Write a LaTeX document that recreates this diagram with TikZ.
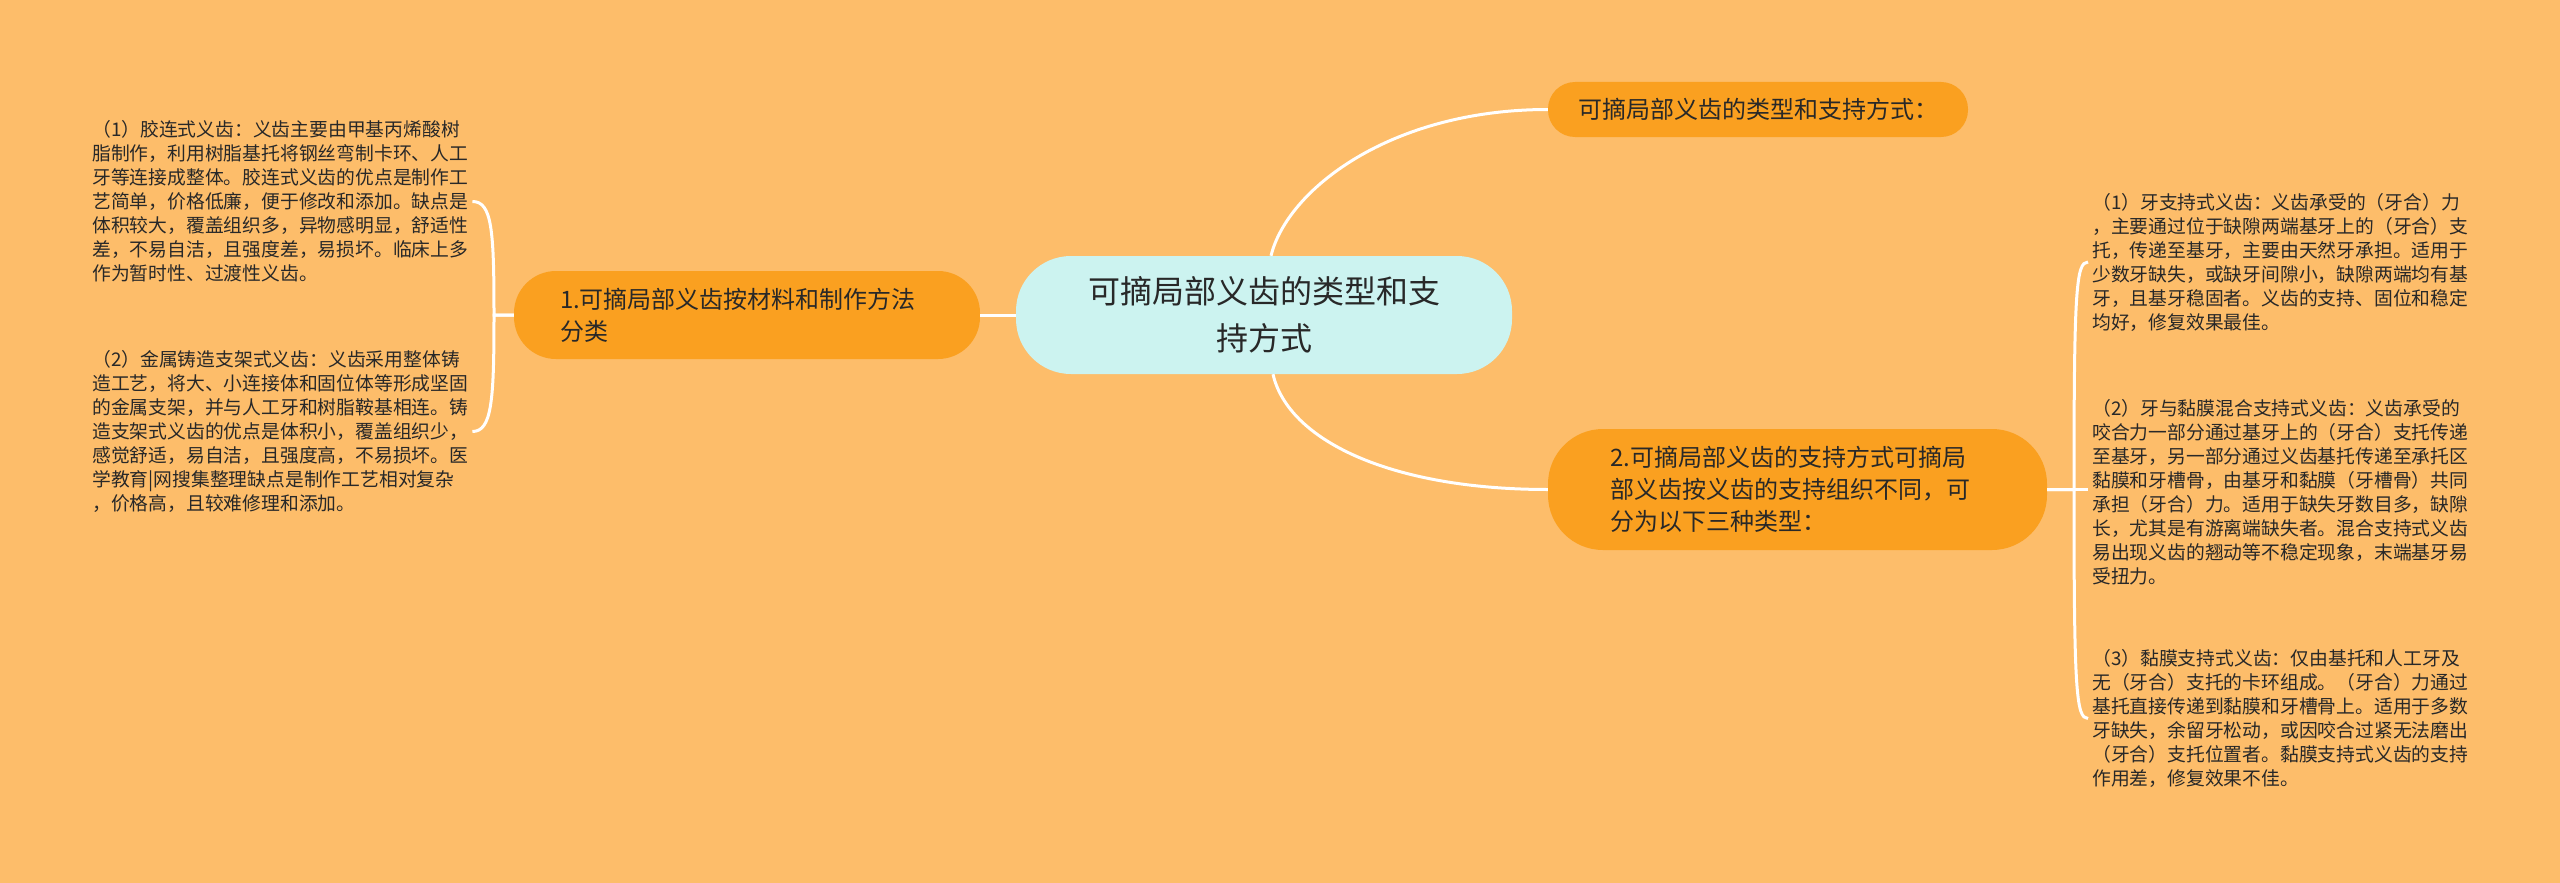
\documentclass[tikz,border=0pt]{standalone}
\usepackage{fontspec}
\newfontfamily\cjk{Noto Sans CJK SC}
\definecolor{bg}{RGB}{253,189,106}
\definecolor{orn}{RGB}{250,160,32}
\definecolor{cyn}{RGB}{204,243,240}
\definecolor{txt}{RGB}{40,40,40}
\begin{document}
\begin{tikzpicture}[x=1pt,y=-1pt,
  link/.style={draw=white,line width=3pt},
  leaf/.style={font=\cjk\fontsize{18.8}{24}\selectfont, text=txt, align=left, inner xsep=4pt, inner ysep=0pt, anchor=west},
  sub/.style={fill=orn, text=txt, font=\cjk\fontsize{24}{32}\selectfont, align=left, inner ysep=0pt},
  rootbox/.style={fill=cyn, text=txt, font=\cjk\fontsize{32}{47}\selectfont, align=center, inner ysep=0pt, rounded corners=55pt, minimum width=496pt, minimum height=118pt}]
\path[fill=bg] (0,0) rectangle (2560,883);

\node[rootbox] (root) at (1264,315) {可摘局部义齿的类型和支\\持方式};

\node[sub, rounded corners=27pt, minimum width=420pt, minimum height=55pt, inner xsep=29pt] (top) at (1758,109.5) {可摘局部义齿的类型和支持方式：};

\node[sub, rounded corners=42pt, minimum height=88pt, inner xsep=46pt, text width=374pt] (n1) at (747,315) {1.可摘局部义齿按材料和制作方法\\分类};

\node[sub, rounded corners=55pt, minimum height=121pt, inner xsep=62pt, text width=375pt] (n2) at (1797.5,489.5) {2.可摘局部义齿的支持方式可摘局\\部义齿按义齿的支持组织不同，可\\分为以下三种类型：};

\node[leaf] (l1) at (88,201.5) {（1）胶连式义齿：义齿主要由甲基丙烯酸树\\脂制作，利用树脂基托将钢丝弯制卡环、人工\\牙等连接成整体。胶连式义齿的优点是制作工\\艺简单，价格低廉，便于修改和添加。缺点是\\体积较大，覆盖组织多，异物感明显，舒适性\\差，不易自洁，且强度差，易损坏。临床上多\\作为暂时性、过渡性义齿。};

\node[leaf] (l2) at (88,431.5) {（2）金属铸造支架式义齿：义齿采用整体铸\\造工艺，将大、小连接体和固位体等形成坚固\\的金属支架，并与人工牙和树脂鞍基相连。铸\\造支架式义齿的优点是体积小，覆盖组织少，\\感觉舒适，易自洁，且强度高，不易损坏。医\\学教育|网搜集整理缺点是制作工艺相对复杂\\，价格高，且较难修理和添加。};

\node[leaf] (r1) at (2088,262) {（1）牙支持式义齿：义齿承受的（牙合）力\\，主要通过位于缺隙两端基牙上的（牙合）支\\托，传递至基牙，主要由天然牙承担。适用于\\少数牙缺失，或缺牙间隙小，缺隙两端均有基\\牙，且基牙稳固者。义齿的支持、固位和稳定\\均好，修复效果最佳。};

\node[leaf] (r2) at (2088,492.5) {（2）牙与黏膜混合支持式义齿：义齿承受的\\咬合力一部分通过基牙上的（牙合）支托传递\\至基牙，另一部分通过义齿基托传递至承托区\\黏膜和牙槽骨，由基牙和黏膜（牙槽骨）共同\\承担（牙合）力。适用于缺失牙数目多，缺隙\\长，尤其是有游离端缺失者。混合支持式义齿\\易出现义齿的翘动等不稳定现象，末端基牙易\\受扭力。};

\node[leaf] (r3) at (2088,718.5) {（3）黏膜支持式义齿：仅由基托和人工牙及\\无（牙合）支托的卡环组成。（牙合）力通过\\基托直接传递到黏膜和牙槽骨上。适用于多数\\牙缺失，余留牙松动，或因咬合过紧无法磨出\\（牙合）支托位置者。黏膜支持式义齿的支持\\作用差，修复效果不佳。};

% main connectors
\draw[link] ([xshift=7pt]root.north) .. controls (1287,190) and (1390,109.5) .. (top.west);
\draw[link] ([xshift=9pt]root.south) .. controls (1288,440) and (1390,489.5) .. (n2.west);
\draw[link] (root.west) -- (n1.east);

% left brackets
\draw[link] (n1.west) -- (494,315) .. controls (494,230) and (492,201.5) .. (l1.east);
\draw[link] (n1.west) -- (494,315) .. controls (494,400) and (492,431.5) .. (l2.east);

% right brackets
\draw[link] (n2.east) -- (2074,489.5) .. controls (2074,290) and (2076,262) .. (r1.west);
\draw[link] (n2.east) -- (r2.west |- n2.east);
\draw[link] (n2.east) -- (2074,489.5) .. controls (2074,690) and (2076,718.5) .. (r3.west);
\end{tikzpicture}
\end{document}
